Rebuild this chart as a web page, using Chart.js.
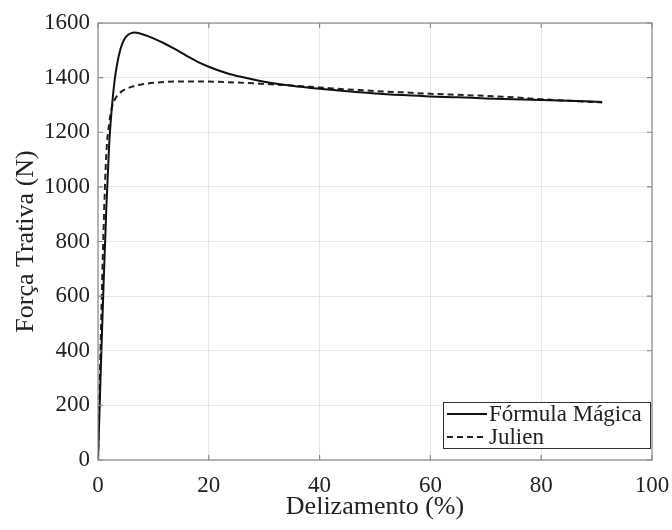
<!DOCTYPE html>
<html>
<head>
<meta charset="utf-8">
<script src="https://cdn.jsdelivr.net/npm/chart.js@4.4.1/dist/chart.umd.min.js"></script>
<style>
  html, body { margin: 0; padding: 0; background: #fff; }
  #wrap { width: 672px; height: 530px; }
</style>
</head>
<body>
<div id="wrap"><canvas id="chart" width="672" height="530"></canvas></div>
<script>
// Fórmula Mágica (solid)
const magicaX = [0, 0.5, 1, 1.5, 2, 2.5, 3, 3.5, 4, 4.5, 5, 5.5, 6, 6.5, 7, 8, 9, 10, 12, 14, 16, 18, 20, 23, 26, 30, 35, 40, 45, 50, 55, 60, 65, 70, 75, 80, 85, 91];
const magicaY = [0, 330, 640, 920, 1150, 1290, 1390, 1455, 1500, 1530, 1548, 1558, 1563, 1565, 1564, 1559, 1552, 1544, 1525, 1503, 1480, 1458, 1440, 1418, 1402, 1385, 1370, 1359, 1350, 1342, 1336, 1331, 1328, 1324, 1321, 1318, 1315, 1311];

// Julien (dashed)
const julienX = [0, 0.5, 1, 1.5, 2, 2.5, 3, 3.5, 4, 5, 6, 7, 8, 10, 12, 15, 18, 21, 25, 30, 35, 40, 45, 50, 55, 60, 65, 70, 75, 80, 85, 91];
const julienY = [0, 440, 840, 1120, 1230, 1290, 1318, 1335, 1345, 1358, 1366, 1372, 1376, 1381, 1384, 1386, 1386, 1385, 1382, 1377, 1371, 1364, 1357, 1351, 1346, 1341, 1337, 1333, 1328, 1321, 1315, 1309];

const xTicks = [0, 20, 40, 60, 80, 100];
const yTicks = [0, 200, 400, 600, 800, 1000, 1200, 1400, 1600];

const serif = "'Liberation Serif', 'DejaVu Serif', serif";

function toPoints(xs, ys) {
  return xs.map((x, i) => ({ x: x, y: ys[i] }));
}

// box round the plot, inward ticks and legend inside the axes
const matlabAxes = {
  id: "matlabAxes",
  afterDatasetsDraw(chart) {
    const ctx = chart.ctx;
    const a = chart.chartArea;
    const xs = chart.scales.x;
    const ys = chart.scales.y;
    ctx.save();
    ctx.strokeStyle = "#8a8a8a";
    ctx.lineWidth = 1.2;
    ctx.strokeRect(a.left, a.top, a.right - a.left, a.bottom - a.top);
    ctx.beginPath();
    xTicks.forEach(v => {
      const px = xs.getPixelForValue(v);
      ctx.moveTo(px, a.bottom); ctx.lineTo(px, a.bottom - 5);
      ctx.moveTo(px, a.top); ctx.lineTo(px, a.top + 5);
    });
    yTicks.forEach(v => {
      const py = ys.getPixelForValue(v);
      ctx.moveTo(a.left, py); ctx.lineTo(a.left + 5, py);
      ctx.moveTo(a.right, py); ctx.lineTo(a.right - 5, py);
    });
    ctx.stroke();

    // legend
    const bx = 443, by = 402, bw = 207, bh = 46;
    ctx.fillStyle = "#fff";
    ctx.fillRect(bx, by, bw, bh);
    ctx.strokeStyle = "#333";
    ctx.lineWidth = 1;
    ctx.strokeRect(bx + 0.5, by + 0.5, bw, bh);
    ctx.font = "23px " + serif;
    ctx.textBaseline = "middle";
    chart.data.datasets.forEach((ds, i) => {
      const cy = by + 12 + i * 23;
      ctx.strokeStyle = ds.borderColor;
      ctx.lineWidth = 1.8;
      ctx.setLineDash(ds.borderDash || []);
      ctx.beginPath();
      ctx.moveTo(bx + 4, cy);
      ctx.lineTo(bx + 44, cy);
      ctx.stroke();
      ctx.setLineDash([]);
      ctx.fillStyle = "#222";
      ctx.fillText(ds.label, bx + 46, cy + 1);
    });
    ctx.restore();
  }
};

new Chart(document.getElementById("chart"), {
  type: "line",
  data: {
    datasets: [
      {
        label: "Fórmula Mágica",
        data: toPoints(magicaX, magicaY),
        borderColor: "#111",
        borderWidth: 2,
        pointRadius: 0,
        cubicInterpolationMode: "monotone",
        fill: false
      },
      {
        label: "Julien",
        data: toPoints(julienX, julienY),
        borderColor: "#222",
        borderWidth: 2,
        borderDash: [6, 4],
        pointRadius: 0,
        cubicInterpolationMode: "monotone",
        fill: false
      }
    ]
  },
  options: {
    responsive: false,
    animation: false,
    layout: { padding: { top: 23, right: 20, left: 0, bottom: 0 } },
    plugins: {
      legend: { display: false },
      tooltip: { enabled: false }
    },
    scales: {
      x: {
        type: "linear",
        min: 0,
        max: 100,
        afterBuildTicks: s => { s.ticks = xTicks.map(v => ({ value: v })); },
        afterFit: s => { s.height = 70; s.paddingLeft = 0; s.paddingRight = 0; },
        grid: { color: "#e6e6e6", drawTicks: false },
        border: { display: false },
        ticks: { color: "#222", font: { family: serif, size: 23 }, padding: 12, maxRotation: 0, callback: v => String(v) },
        title: { display: true, text: "Delizamento (%)", color: "#222", font: { family: serif, size: 26 }, padding: { top: 0, bottom: 7 } }
      },
      y: {
        min: 0,
        max: 1600,
        afterBuildTicks: s => { s.ticks = yTicks.map(v => ({ value: v })); },
        afterFit: s => { s.width = 98; s.paddingTop = 0; s.paddingBottom = 0; },
        grid: { color: "#e6e6e6", drawTicks: false },
        border: { display: false },
        ticks: { color: "#222", font: { family: serif, size: 23 }, padding: 8, callback: v => String(v) },
        title: { display: true, text: "Força Trativa (N)", color: "#222", font: { family: serif, size: 26 }, padding: { top: 11, bottom: 0 } }
      }
    }
  },
  plugins: [matlabAxes]
});
</script>
</body>
</html>
